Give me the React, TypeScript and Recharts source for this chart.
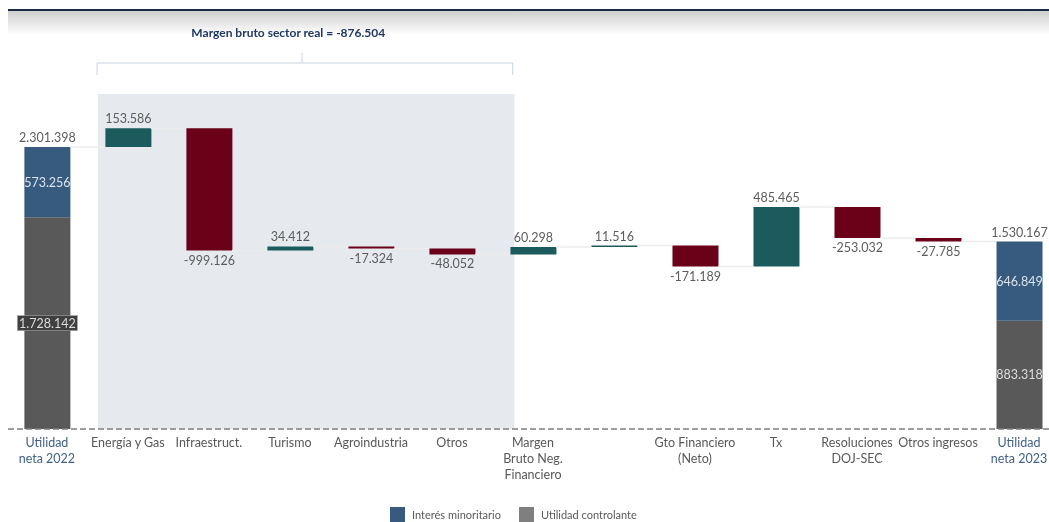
import React from 'react';
import { ComposedChart, Bar, XAxis, YAxis, Cell, LabelList, ReferenceArea, ReferenceLine, ReferenceDot } from 'recharts';

const categories = [
  'Utilidad\nneta 2022',
  'Energía y Gas',
  'Infraestruct.',
  'Turismo',
  'Agroindustria',
  'Otros',
  'Margen\nBruto Neg.\nFinanciero',
  '',
  'Gto Financiero\n(Neto)',
  'Tx',
  'Resoluciones\nDOJ-SEC',
  'Otros ingresos',
  'Utilidad\nneta 2023',
];
const deltas: (number | null)[] = [null, 153586, -999126, 34412, -17324, -48052, 60298, 11516, -171189, 485465, -253032, -27785, null];
const controlante: (number | null)[] = [1728142, null, null, null, null, null, null, null, null, null, null, null, 883318];
const minoritario: (number | null)[] = [573256, null, null, null, null, null, null, null, null, null, null, null, 646849];
const titleText = 'Margen bruto sector real = -876.504';
const legendNames = ['Interés minoritario', 'Utilidad controlante'];

const FONT = 'Lato, "Open Sans", sans-serif';
const C_BLUE = '#375a7f';
const C_GRAY = '#595959';
const C_POS = '#1b5b5e';
const C_NEG = '#6b0019';
const C_TEXT = '#5c5c5c';

const fmt = (v: number) => {
  const s = Math.abs(Math.round(v)).toString().replace(/\B(?=(\d{3})+(?!\d))/g, '.');
  return (v < 0 ? '-' : '') + s;
};

let running = 0;
const data = categories.map((c, i) => {
  const d = deltas[i];
  if (d == null) {
    const ctrl = controlante[i] ?? 0;
    const mino = minoritario[i] ?? 0;
    running = ctrl + mino;
    return { idx: i, base: 0, ctrl, mino, delta: 0, change: 0, total: running, end: running };
  }
  const prev = running;
  const next = prev + d;
  running = next;
  return { idx: i, base: Math.min(prev, next), ctrl: 0, mino: 0, delta: Math.abs(d), change: d, total: 0, end: next };
});

const tickIdx = categories.map((_, i) => i);
const HALF = 23 / 81.01;
const connectors = data.slice(0, -1).map((d, i) => ({ x1: i + HALF, x2: i + 1 - HALF, y: d.end }));

const CategoryTick = (props: any) => {
  const { x, y, payload } = props;
  const i = payload.value as number;
  const lines = (categories[i] ?? '').split('\n');
  const color = i === 0 || i === categories.length - 1 ? '#43618a' : '#595959';
  return (
    <text x={x} y={y} textAnchor="middle" fill={color} fontSize={12.5} fontFamily={FONT}>
      {lines.map((l, k) => (
        <tspan key={k} x={x} dy={k === 0 ? 10 : 16}>{l}</tspan>
      ))}
    </text>
  );
};

const DeltaLabel = (props: any) => {
  const { x, y, width, height, value } = props;
  const v = Number(value);
  if (!v) return null;
  const cx = x + width / 2;
  const top = Math.min(y, y + height);
  const bottom = Math.max(y, y + height);
  if (v > 0) {
    return <text x={cx} y={top - 5} textAnchor="middle" fill={C_TEXT} fontSize={12.5} fontFamily={FONT}>{fmt(v)}</text>;
  }
  return <text x={cx} y={bottom + 14} textAnchor="middle" fill={C_TEXT} fontSize={12.5} fontFamily={FONT}>{fmt(v)}</text>;
};

const TotalLabel = (props: any) => {
  const { x, y, width, height, value } = props;
  const v = Number(value);
  if (!v) return null;
  const top = Math.min(y, y + height);
  return <text x={x + width / 2} y={top - 5} textAnchor="middle" fill={C_TEXT} fontSize={12.5} fontFamily={FONT}>{fmt(v)}</text>;
};

const MinoLabel = (props: any) => {
  const { x, y, width, height, value } = props;
  const v = Number(value);
  if (!v) return null;
  return <text x={x + width / 2} y={y + height / 2 + 4.5} textAnchor="middle" fill="#dce3ec" fontSize={12.5} fontFamily={FONT}>{fmt(v)}</text>;
};

const CtrlLabel = (props: any) => {
  const { x, y, width, height, value } = props;
  const v = Number(value);
  if (!v) return null;
  const cx = x + width / 2;
  const cy = y + height / 2;
  const boxed = v === controlante[0];
  return (
    <g>
      {boxed && <rect x={cx - 30} y={cy - 7.5} width={60} height={15} fill="#3f3f3f" stroke="#a6a6a6" strokeWidth={0.6} />}
      <text x={cx} y={cy + 4.5} textAnchor="middle" fill="#dcdcdc" fontSize={12.5} fontFamily={FONT}>{fmt(v)}</text>
    </g>
  );
};

export default function App() {
  return (
    <div style={{ position: 'fixed', left: 8, top: 8, width: 1041, height: 514, overflow: 'hidden', fontFamily: FONT }}>
      <div style={{ position: 'absolute', left: 0, top: 1, width: 1041, height: 2, background: '#1d2a44' }} />
      <div style={{ position: 'absolute', left: 0, top: 3, width: 1041, height: 24, background: 'linear-gradient(#cfcfcf, rgba(255,255,255,0))' }} />
      <div style={{ position: 'absolute', left: 0, top: 0 }}>
        <ComposedChart width={1041} height={514} data={data} margin={{ top: 12, right: 0, bottom: 0, left: 0 }} barGap={0}>
          <XAxis
            type="number"
            dataKey="idx"
            domain={[-0.48, 12.37]}
            ticks={tickIdx}
            interval={0}
            allowDataOverflow
            tick={<CategoryTick />}
            tickLine={false}
            axisLine={{ stroke: '#7f7f7f', strokeDasharray: '6 3', strokeWidth: 1.5 }}
            height={93}
          />
          <YAxis hide domain={[0, 3338000]} allowDataOverflow />
          <ReferenceArea x1={0.63} x2={5.77} y1={0} y2={2734000} fill="#e6e9ed" fillOpacity={1} stroke="none" ifOverflow="visible" />
          {connectors.map((c, i) => (
            <ReferenceLine key={i} segment={[{ x: c.x1, y: c.y }, { x: c.x2, y: c.y }]} stroke="#ececec" strokeWidth={1.5} ifOverflow="visible" />
          ))}
          <ReferenceLine segment={[{ x: 0.62, y: 2987000 }, { x: 5.75, y: 2987000 }]} stroke="#c9d3de" strokeWidth={1} ifOverflow="visible" />
          <ReferenceLine segment={[{ x: 0.62, y: 2987000 }, { x: 0.62, y: 2889000 }]} stroke="#c9d3de" strokeWidth={1} ifOverflow="visible" />
          <ReferenceLine segment={[{ x: 5.75, y: 2987000 }, { x: 5.75, y: 2889000 }]} stroke="#c9d3de" strokeWidth={1} ifOverflow="visible" />
          <ReferenceLine segment={[{ x: 3.15, y: 2987000 }, { x: 3.15, y: 3069000 }]} stroke="#c9d3de" strokeWidth={1} ifOverflow="visible" />
          <ReferenceDot
            x={2.98}
            y={3232000}
            r={0}
            fill="none"
            stroke="none"
            ifOverflow="visible"
            label={{ value: titleText, position: 'center', fill: '#1f3864', fontSize: 12, fontWeight: 700, fontFamily: FONT }}
          />
          <Bar dataKey="base" stackId="w" fill="transparent" barSize={46} isAnimationActive={false} />
          <Bar dataKey="ctrl" stackId="w" fill={C_GRAY} barSize={46} isAnimationActive={false}>
            <LabelList dataKey="ctrl" content={<CtrlLabel />} />
          </Bar>
          <Bar dataKey="mino" stackId="w" fill={C_BLUE} barSize={46} isAnimationActive={false}>
            <LabelList dataKey="mino" content={<MinoLabel />} />
            <LabelList dataKey="total" content={<TotalLabel />} />
          </Bar>
          <Bar dataKey="delta" stackId="w" barSize={46} isAnimationActive={false}>
            {data.map((d, i) => (
              <Cell key={i} fill={d.change >= 0 ? C_POS : C_NEG} />
            ))}
            <LabelList dataKey="change" content={<DeltaLabel />} />
          </Bar>
        </ComposedChart>
      </div>
      <div style={{ position: 'absolute', left: 382, top: 499, display: 'flex', alignItems: 'center', fontSize: 11, lineHeight: '14px', color: '#595959', whiteSpace: 'nowrap' }}>
        <span style={{ display: 'inline-block', width: 15, height: 15, background: C_BLUE, marginRight: 7 }} />
        <span style={{ marginRight: 18 }}>{legendNames[0]}</span>
        <span style={{ display: 'inline-block', width: 15, height: 15, background: '#7f7f7f', marginRight: 7 }} />
        <span>{legendNames[1]}</span>
      </div>
    </div>
  );
}
